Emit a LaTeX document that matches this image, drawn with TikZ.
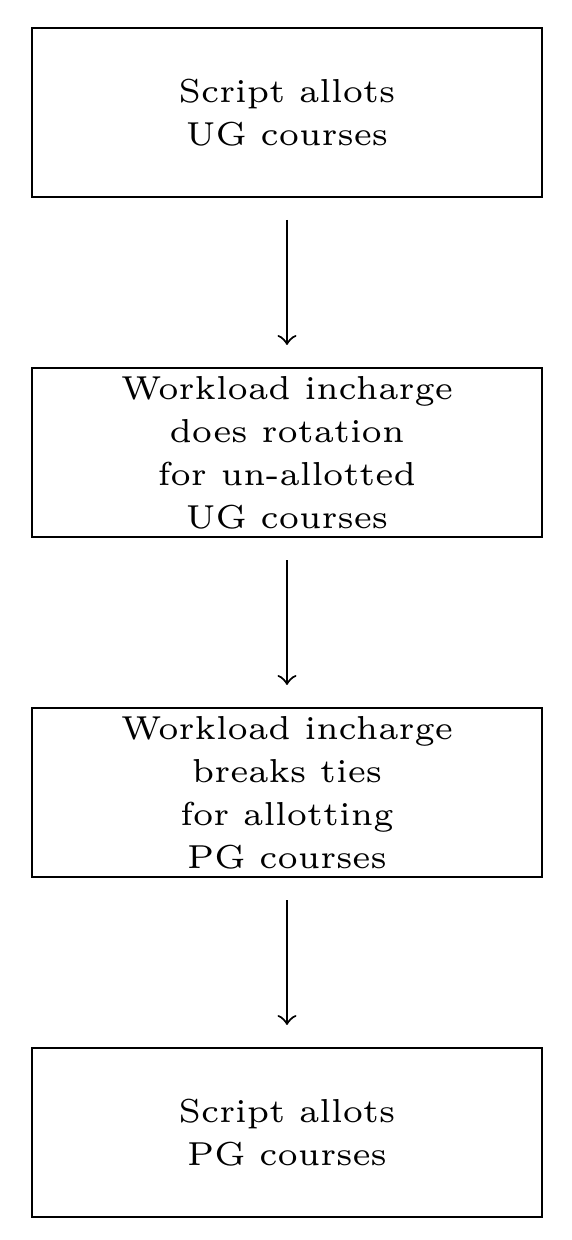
\documentclass[tikz,border=0pt]{standalone}
\usetikzlibrary{positioning}

\begin{document}
\begin{tikzpicture}[
    stepbox/.style = {draw, thin, minimum width=3.32cm, minimum height=1.10cm, align=center, font=\fontsize{6.15}{7.96}\selectfont, inner sep=0pt},
    flow/.style = {thin, ->, shorten >=0.143cm, shorten <=0.143cm}]
                        \useasboundingbox (0,0) rectangle (3.723,-8.071);
                        \node[stepbox] (ugscript) at (1.868,-0.732) {Script allots\\UG courses};
                        \node[stepbox] (ugrotate) at (1.868,-2.945) {Workload incharge\\does rotation\\for un-allotted\\UG courses};
                        \node[stepbox] (pgties) at (1.868,-5.158) {Workload incharge\\breaks ties\\for allotting\\PG courses};
                        \node[stepbox] (pgscript) at (1.868,-7.371) {Script allots\\PG courses};
                        \draw[flow] (ugscript) -- (ugrotate);
                        \draw[flow] (ugrotate) -- (pgties);
                        \draw[flow] (pgties) -- (pgscript);
                    \end{tikzpicture}
\end{document}
